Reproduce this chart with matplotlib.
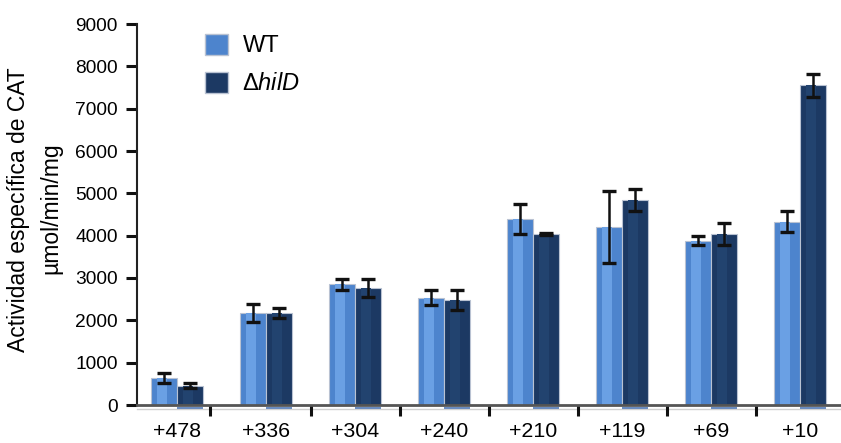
import matplotlib
matplotlib.use("Agg")
import matplotlib.pyplot as plt
from matplotlib.patches import Patch
import numpy as np

categories = ["+478", "+336", "+304", "+240", "+210", "+119", "+69", "+10"]
wt_values = [630, 2170, 2850, 2530, 4390, 4200, 3880, 4330]
wt_errors = [120, 210, 130, 175, 360, 850, 110, 250]
hild_values = [460, 2170, 2760, 2480, 4040, 4850, 4040, 7550]
hild_errors = [60, 120, 220, 240, 30, 260, 250, 275]
yticks = [0, 1000, 2000, 3000, 4000, 5000, 6000, 7000, 8000, 9000]
sep_ticks = [0.37, 1.5, 2.5, 3.5, 4.5, 5.5, 6.5]

plt.rcParams['font.family'] = ['Liberation Sans', 'DejaVu Sans']
plt.rcParams['mathtext.fontset'] = 'custom'
plt.rcParams['mathtext.rm'] = 'Liberation Sans'
plt.rcParams['mathtext.it'] = 'Liberation Sans:italic'

WT_COLOR = '#4d84cd'
HILD_COLOR = '#1c3963'
EDGE = '#b9c2d2'

fig = plt.figure(figsize=(8.41, 4.43), dpi=100)
ax = fig.add_axes([137/841, 1-405/443, 1-137/841, (405-24)/443])

x = np.arange(len(categories))
w = 0.29
ax.bar(x - w/2, wt_values, w, color=WT_COLOR, edgecolor=EDGE, linewidth=0.8, zorder=2)
ax.bar(x + w/2, hild_values, w, color=HILD_COLOR, edgecolor=EDGE, linewidth=0.8, zorder=2)
# lighter stripes for shading
ax.bar(x - w/2 - w*0.08, wt_values, w*0.38, color='#6aa0e4', linewidth=0, zorder=2.1)
ax.bar(x + w/2 - w*0.08, hild_values, w*0.38, color='#22436f', linewidth=0, zorder=2.1)
# base strips below axis (3D look)
ax.bar(x + w/2, [-60]*len(x), w, bottom=-40, color='#6a8cc0', linewidth=0, clip_on=False, zorder=1)

ax.errorbar(x - w/2, wt_values, yerr=wt_errors, fmt='none', ecolor='#111111',
            elinewidth=1.8, capsize=4.8, capthick=2.4, zorder=3)
ax.errorbar(x + w/2, hild_values, yerr=hild_errors, fmt='none', ecolor='#111111',
            elinewidth=1.8, capsize=4.8, capthick=2.4, zorder=3)

ax.set_xlim(-0.45, 7.46)
ax.set_ylim(0, 9000)
ax.set_yticks(yticks)
ax.set_yticklabels([str(v) for v in yticks], fontsize=13.8)
ax.tick_params(axis='y', length=8, width=2.2, color='#111111', pad=6)

ax.set_xticks(x)
ax.set_xticklabels(categories, fontsize=15.4)
ax.tick_params(axis='x', length=0, pad=12)
ax.set_xticks(sep_ticks, minor=True)
ax.tick_params(axis='x', which='minor', length=8, width=2.2, color='#111111', direction='out')

for s in ['top', 'right']:
    ax.spines[s].set_visible(False)
ax.spines['left'].set_color('#222222')
ax.spines['left'].set_linewidth(1.5)
ax.spines['bottom'].set_color('#555555')
ax.spines['bottom'].set_linewidth(2)
ax.axhline(-85, color='#d0d0d0', linewidth=1.0, clip_on=False, zorder=0)

fig.text(19/841, 1-210/443, "Actividad específica de CAT", rotation=90,
         ha='center', va='center', fontsize=16.5)
fig.text(51/841, 1-208/443, "µmol/min/mg", rotation=90,
         ha='center', va='center', fontsize=16.5)

handles = [Patch(facecolor=WT_COLOR, edgecolor=EDGE), Patch(facecolor=HILD_COLOR, edgecolor=EDGE)]
fig.legend(handles, ["WT", r"Δ$\mathit{hilD}$"], loc='upper left',
           bbox_to_anchor=(200/841, 1-29/443), frameon=False, fontsize=17,
           handlelength=1.0, handleheight=1.0, labelspacing=0.6, handletextpad=0.6,
           borderaxespad=0, borderpad=0.2)

fig.savefig("out.png", dpi=100)
